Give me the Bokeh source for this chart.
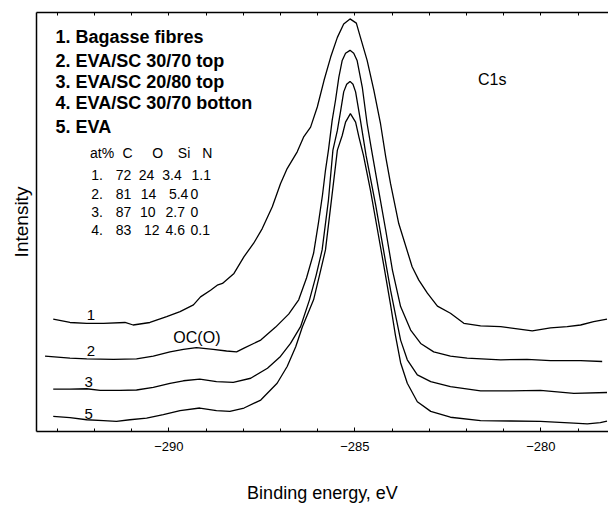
from bokeh.plotting import figure
from bokeh.models import Range1d, LinearAxis, FixedTicker, Label
from bokeh.embed import file_html
from bokeh.resources import INLINE

# ---- data (binding energy in eV, intensity in arbitrary units) ----
be_1 = [-293.11,-292.66,-292.21,-291.76,-291.18,-290.96,-290.51,-290.06,-289.70,-289.34,-289.15,-288.88,-288.70,-288.56,-288.25,-287.98,-287.72,-287.49,-287.22,-287.00,-286.82,-286.55,-286.38,-286.19,-286.01,-285.83,-285.65,-285.47,-285.30,-285.13,-284.96,-284.85,-284.67,-284.49,-284.31,-284.17,-284.04,-283.82,-283.46,-283.28,-283.05,-282.78,-282.43,-282.07,-281.62,-281.08,-280.63,-280.23,-279.74,-279.29,-278.93,-278.58,-278.22]
int_1 = [26.8,26.0,25.8,25.8,26.0,25.4,26.0,27.4,28.6,30.2,32.1,33.7,34.9,35.3,37.7,41.7,44.9,48.4,53.6,59.1,62.7,66.7,70.2,72.6,77.4,83.7,89.3,94.0,97.2,98.4,97.4,94.0,88.5,81.4,73.4,65.5,59.1,49.6,39.3,36.1,33.0,29.9,28.2,25.8,25.2,25.0,24.5,24.0,24.7,25.0,25.4,26.2,26.8]

be_2 = [-293.33,-292.66,-292.21,-291.49,-290.87,-290.42,-289.97,-289.61,-289.26,-288.81,-288.45,-288.18,-287.98,-287.53,-287.13,-286.78,-286.51,-286.30,-286.11,-285.98,-285.87,-285.79,-285.71,-285.61,-285.52,-285.43,-285.34,-285.25,-285.13,-285.03,-284.94,-284.80,-284.67,-284.55,-284.36,-284.17,-283.99,-283.77,-283.50,-283.23,-282.88,-282.43,-281.98,-281.08,-280.37,-279.74,-278.93,-278.35]
int_2 = [18.0,17.5,17.3,17.2,17.3,18.0,19.0,19.6,20.0,19.6,19.2,19.0,19.9,21.8,24.9,28.0,31.4,36.6,42.5,49.7,56.4,62.3,67.1,74.2,79.0,84.5,88.5,90.2,90.9,90.2,88.5,82.1,73.4,67.1,57.5,48.0,38.5,29.8,24.2,21.0,19.0,18.0,17.5,17.1,17.2,16.9,16.9,16.7]

be_3 = [-293.11,-292.66,-292.21,-291.85,-291.32,-290.87,-290.42,-289.97,-289.61,-289.17,-288.72,-288.27,-287.80,-287.35,-287.00,-286.73,-286.46,-286.22,-286.04,-285.88,-285.71,-285.59,-285.47,-285.38,-285.30,-285.22,-285.13,-285.05,-284.98,-284.85,-284.70,-284.44,-284.23,-284.04,-283.88,-283.77,-283.59,-283.32,-282.96,-282.43,-281.62,-280.81,-280.01,-279.11,-278.22]
int_3 = [10.1,10.1,10.2,9.8,9.8,9.9,10.5,11.5,12.1,12.5,11.9,11.7,12.7,15.1,17.9,21.0,25.0,31.4,37.3,43.3,55.2,67.1,71.8,76.6,81.0,82.8,83.5,82.8,81.0,74.2,65.9,54.0,43.3,33.7,26.6,21.8,17.1,13.5,11.9,10.7,9.7,9.7,9.8,9.1,9.3]

be_5 = [-293.11,-292.66,-292.21,-291.76,-291.41,-291.05,-290.60,-290.15,-289.70,-289.17,-288.72,-288.36,-287.98,-287.53,-287.09,-286.82,-286.59,-286.41,-286.11,-285.95,-285.79,-285.63,-285.47,-285.34,-285.25,-285.12,-284.98,-284.89,-284.77,-284.58,-284.39,-284.20,-284.04,-283.91,-283.77,-283.59,-283.32,-282.96,-282.43,-281.62,-280.81,-280.01,-279.11,-278.75,-278.40,-278.22]
int_5 = [3.6,3.3,2.8,2.6,2.4,2.8,3.2,4.0,5.0,5.6,5.0,4.8,5.6,7.5,11.5,15.5,20.2,25.0,31.4,37.3,43.3,55.2,67.1,70.6,73.8,75.8,73.8,70.2,65.9,57.5,48.0,38.5,30.2,23.0,16.4,11.5,7.1,4.8,3.4,2.6,2.5,2.4,2.0,1.8,2.1,2.5]

major_ticks = [-290, -285, -280]
minor_ticks = [-293, -292, -291, -289, -288, -287, -286, -284, -283, -282, -281, -279]

legend_items = ["1. Bagasse fibres", "2. EVA/SC 30/70 top", "3. EVA/SC 20/80 top",
                "4. EVA/SC 30/70 botton", "5. EVA"]
table_header = ["at%", "C", "O", "Si", "N"]
table_rows = [["1.", "72", "24", "3.4", "1.1"],
              ["2.", "81", "14", "5.4", "0"],
              ["3.", "87", "10", "2.7", "0"],
              ["4.", "83", "12", "4.6", "0.1"]]
curve_tags = ["1", "2", "3", "5"]

# ---- layout helpers (positions only) ----
legend_x = -293.05
legend_y = [93.98, 88.38, 83.38, 78.38, 72.67]
header_x = [-292.12, -291.25, -290.45, -289.76, -289.10]
header_y = 66.43
rows_x = [[-292.09, -291.43, -290.81, -290.18, -289.39],
          [-292.09, -291.43, -290.76, -290.00, -289.42],
          [-292.09, -291.43, -290.78, -290.09, -289.42],
          [-292.09, -291.43, -290.67, -290.09, -289.42]]
rows_y = [61.12, 56.76, 52.38, 48.02]
tag_pos = [(-292.21, 27.8), (-292.21, 19.2), (-292.27, 11.7), (-292.27, 4.2)]

FONT = "Liberation Sans"
INK = "black"

p = figure(width=608, height=506, x_range=Range1d(-293.56, -278.18),
           y_range=Range1d(0, 99.93), output_backend="svg", toolbar_location=None)
p.min_border_left = 36
p.min_border_right = 0
p.min_border_top = 12
p.min_border_bottom = 75
p.outline_line_color = None
p.xgrid.visible = False
p.ygrid.visible = False

xa = p.xaxis[0]
xa.ticker = FixedTicker(ticks=major_ticks, minor_ticks=minor_ticks)
xa.major_tick_in = 4
xa.major_tick_out = 0
xa.minor_tick_in = 3
xa.minor_tick_out = 0
xa.axis_line_width = 1.5
xa.axis_line_color = INK
xa.major_tick_line_color = INK
xa.minor_tick_line_color = INK
xa.major_label_text_font = FONT
xa.major_label_text_font_size = "13px"
xa.major_label_text_color = INK
xa.major_label_standoff = 10
xa.axis_label = "Binding energy, eV"
xa.axis_label_text_font = FONT
xa.axis_label_text_font_size = "18px"
xa.axis_label_text_font_style = "normal"
xa.axis_label_text_color = INK
xa.axis_label_standoff = 29

ya = p.yaxis[0]
ya.ticker = FixedTicker(ticks=[])
ya.major_tick_line_color = None
ya.minor_tick_line_color = None
ya.major_label_standoff = 0
ya.axis_line_width = 1.5
ya.axis_line_color = INK
ya.axis_label = "Intensity"
ya.axis_label_text_font = FONT
ya.axis_label_text_font_size = "19px"
ya.axis_label_text_font_style = "normal"
ya.axis_label_text_color = INK
ya.axis_label_standoff = 5

# top frame line with inward tick marks only (no labels)
top = LinearAxis(ticker=FixedTicker(ticks=[], minor_ticks=sorted(major_ticks + minor_ticks)),
                 major_label_standoff=0, major_tick_in=0, major_tick_out=0,
                 minor_tick_in=3, minor_tick_out=0, axis_line_width=1.3,
                 axis_line_color=INK, minor_tick_line_color=INK)
p.add_layout(top, "above")

for xs, ys in [(be_1, int_1), (be_2, int_2), (be_3, int_3), (be_5, int_5)]:
    p.line(xs, ys, line_color=INK, line_width=1.3)

for txt, yy in zip(legend_items, legend_y):
    p.add_layout(Label(x=legend_x, y=yy, text=txt, text_font=FONT, text_font_size="18px",
                       text_font_style="bold", text_color=INK,
                       text_baseline="alphabetic", text_align="left"))

for txt, xx in zip(table_header, header_x):
    p.add_layout(Label(x=xx, y=header_y, text=txt, text_font=FONT, text_font_size="14px",
                       text_color=INK, text_baseline="alphabetic", text_align="left"))
for row, xs, yy in zip(table_rows, rows_x, rows_y):
    for txt, xx in zip(row, xs):
        p.add_layout(Label(x=xx, y=yy, text=txt, text_font=FONT, text_font_size="14px",
                           text_color=INK, text_baseline="alphabetic", text_align="left"))

for txt, (xx, yy) in zip(curve_tags, tag_pos):
    p.add_layout(Label(x=xx, y=yy, text=txt, text_font=FONT, text_font_size="15px",
                       text_color=INK, text_baseline="alphabetic", text_align="left"))

p.add_layout(Label(x=-281.69, y=83.98, text="C1s", text_font=FONT, text_font_size="16px",
                   text_color=INK, text_baseline="alphabetic", text_align="left"))
p.add_layout(Label(x=-289.88, y=22.31, text="OC(O)", text_font=FONT, text_font_size="16px",
                   text_color=INK, text_baseline="alphabetic", text_align="left"))

open("out.html", "w").write(file_html(p, INLINE))
